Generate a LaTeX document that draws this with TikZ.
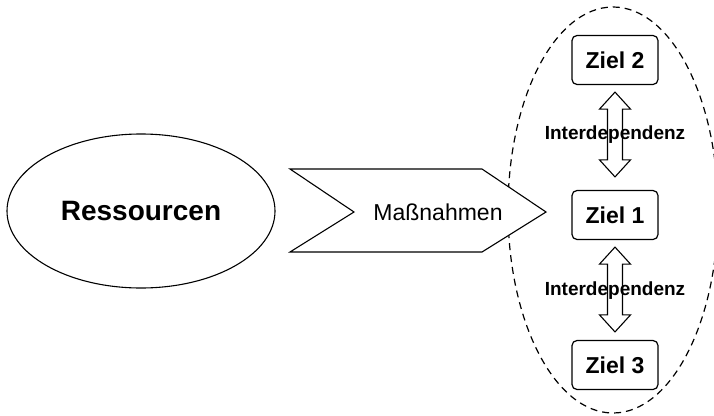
\documentclass[tikz,border=0pt]{standalone}
\usepackage{fontspec}
\setmainfont{Liberation Sans}
\usetikzlibrary{calc,shapes.geometric}

\tikzset{
  ressource/.style={draw=black, line width=1.1pt, ellipse, fill=white,
    minimum width=268pt, minimum height=154pt, inner sep=0pt,
    font=\fontsize{28}{30}\selectfont\bfseries},
  zielbox/.style={draw=black, line width=1.2pt, rounded corners=5pt, fill=white,
    minimum width=86pt, minimum height=49pt, inner sep=0pt,
    font=\fontsize{23}{26}\selectfont\bfseries},
  chevron/.style={draw=black, line width=1.1pt, fill=white, line join=miter},
  chevlabel/.style={inner sep=0pt, font=\fontsize{23}{26}\selectfont},
  interlabel/.style={inner sep=0pt, font=\fontsize{19}{22}\selectfont\bfseries},
  dblarrow/.style={draw=black, line width=1.1pt, fill=white, line join=miter},
  zielgroup/.style={draw=black, line width=1.2pt, dash pattern=on 7pt off 5pt}
}

\begin{document}
\begin{tikzpicture}[x=1pt, y=-1pt]
  \useasboundingbox (0,0) rectangle (714,415);
  \clip (0,0) rectangle (714,415);

  % dashed ellipse grouping the goals
  \draw[zielgroup] (613,210) ellipse [x radius=105, y radius=203];

  % resources
  \node[ressource] (res) at (141,211) {Ressourcen};

  % measures chevron
  \draw[chevron] (290,169) -- (482,169) -- (546,212) -- (482,252)
                 -- (290,252) -- (354,212) -- cycle;
  \node[chevlabel] (mass) at (438,212) {Maßnahmen};

  % goals
  \node[zielbox] (z2) at (615,60)  {Ziel 2};
  \node[zielbox] (z1) at (615,215) {Ziel 1};
  \node[zielbox] (z3) at (615,365) {Ziel 3};

  % interdependency arrows between goals
  \draw[dblarrow] ($(z2.south)+(0,7)$) -- ++(15.5,17) -- ++(-8,0)
     -- ($(z1.north)+(7.5,-30)$) -- ++(8,0) -- ($(z1.north)+(0,-13)$)
     -- ++(-15.5,-17) -- ++(8,0) -- ($(z2.south)+(-7.5,24)$) -- ++(-8,0) -- cycle;
  \draw[dblarrow] ($(z1.south)+(0,7)$) -- ++(15.5,17) -- ++(-8,0)
     -- ($(z3.north)+(7.5,-25)$) -- ++(8,0) -- ($(z3.north)+(0,-8)$)
     -- ++(-15.5,-17) -- ++(8,0) -- ($(z1.south)+(-7.5,24)$) -- ++(-8,0) -- cycle;

  \node[interlabel] (lab1) at (615,135) {Interdependenz};
  \node[interlabel] (lab2) at (615,291) {Interdependenz};
\end{tikzpicture}
\end{document}
